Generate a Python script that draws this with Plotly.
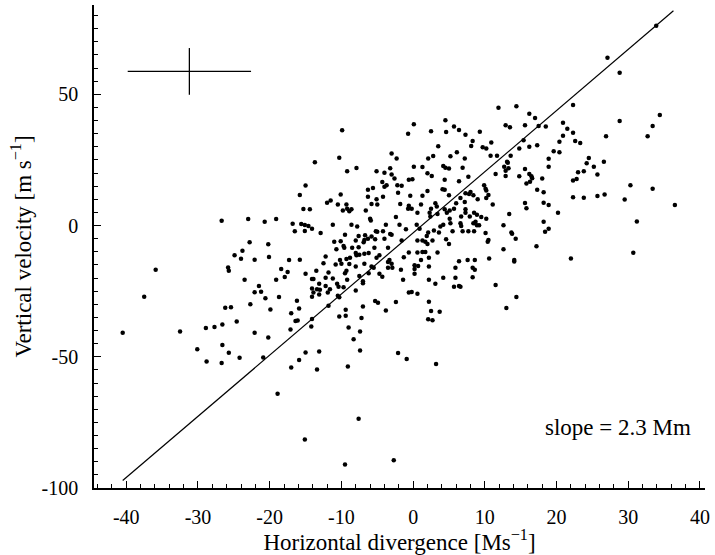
import plotly.graph_objects as go

# Divergence / vertical-velocity samples (Ms^-1, m s^-1)
div = [
    -13.7, -9.9, -10.3, -7.9, -3.0, -2.3, -3.2, -0.7, 0.1, 0.1, 1.3, 2.5, 3.5, 2.1, 2.8, 4.5, 4.6, 5.7, 6.4, 7.3,
    5.2, 6.1, 7.2, 4.2, 4.5, 5.0, 6.9, 8.3, 8.1, 9.3, 9.7, 10.2, 10.9, 10.8, 11.7, 11.9, 12.9, 13.5, 13.6, 13.1,
    13.2, 12.7, 13.3,
    33.9, 27.1, 28.8, 22.3, 14.4, 16.2, 17.0, 15.6, 17.5, 18.5, 20.9, 21.5, 22.3, 20.9, 20.4, 22.6, 23.3, 28.8,
    26.9, 34.4, 33.4, 32.7, 15.4, 14.8, 16.2, 17.3, 19.6, 20.4, 18.9, 18.9, 15.6, 24.5, 24.2, 25.2, 26.6,
    14.8, 16.2, 16.5, 16.6, 18.0, 15.8, 16.3, 23.0, 23.8, 25.7, 22.3, 22.8, 17.3, 18.2, 15.6, 15.8, 18.2, 18.9,
    20.2, 22.3, 23.8, 25.7, 26.7, 30.3, 33.4, 29.5, 36.5, 31.2, 18.2, 18.9, 18.4, 13.8, 14.3, 17.2, 14.1, 14.1,
    22.0, 30.7, 14.4,
    -15.0, -15.8, -15.3, -14.4, -26.7, -23.0, -20.7, -19.1, -16.8, -15.6, -15.1, -14.6, -14.1, -16.5, -15.1,
    -22.8, -20.2, -23.8, -24.9, -24.0, -22.1, -20.1, -17.3, -15.8, -35.9, -25.8, -25.7, -18.4, -17.5, -17.9,
    -15.0, -23.5, -19.1, -14.1, -21.5, -22.1, -21.2, -20.6, -18.7, -14.1, -14.1, -37.5, -16.2, -26.2, -25.4,
    -22.7, -19.9, -15.9, -17.0, -14.1,
    -40.5, -32.5, -28.9, -27.7, -26.6, -24.6, -22.1, -20.2, -17.1, -16.4, -16.1, -14.2, -30.1, -26.6, -25.7,
    -28.8, -26.7, -24.2, -20.9, -15.0, -15.9, -17.0, -18.9, -15.1,
    2.7, -9.0, -7.4, -8.3, -13.1, -7.4, -2.1, -0.9, 3.2, -13.4, -9.1, -7.6, -9.5, -2.7,
    -9.2, -5.1, -4.0, -3.0, -2.6, 2.0, 2.6, 4.4, 7.7, 11.5, 12.9, -4.3, -3.7, -4.0, -5.6, -6.3, -2.2, -1.6,
    -0.6, -0.1, 6.4, 4.1, 4.4, 2.0, 5.0, 7.3, 7.8, 8.0, 8.4, 9.9, 10.1, 10.2, 12.9, -10.1, -2.1, -0.4, 1.3,
    -6.3, -5.1, -4.2, -11.5, -12.0, -10.5, -9.3, -9.2, -9.8, -8.9, -8.6, -5.8, -5.0, -1.8, -0.6, -0.2, -0.7,
    1.1, 3.1, 3.3, 2.5, 6.6, 7.2, 6.0, 5.7, 4.4, 4.7, 5.1, 7.3, 9.0, 10.5, 10.2, 11.1, -6.6, -2.4, 0.6, 2.3,
    2.4, 3.4, 5.1, 8.5, 8.9, 9.5, 7.3, 6.7, 7.9, 13.4, -6.0, -5.9, -7.8, -8.6, -11.2, -3.8, -1.9, 0.5, 4.2,
    5.2, 6.6, 6.7, 8.4, 8.7, 8.9, 9.2, 12.6, 10.2, 3.8, -12.9, -9.5, -7.6, -6.7, -5.2, -5.0, -4.2, -3.2,
    -3.0, -5.8, -5.3, -4.0, -1.0, 0.9, 2.1, 1.9, 2.9, 3.6, 5.5, 4.6, 6.9, 7.7, 8.5, 10.1, 13.7, -11.0,
    -10.1, -8.0, -6.8, -6.3, -9.7, -9.6, -10.7, -8.5, -7.6, -6.9, -5.4, -6.2, -3.5, -1.6, 0.6, 1.3, 1.7, 2.0,
    2.7, 5.0, -0.6, 0.6, 1.3, 1.7, 2.2, 3.4, 10.5, 10.4, 12.6, -12.2, -9.3, -8.8, -8.0, -7.5, -7.9, -6.8,
    -5.1, -4.7, -3.3, -3.5, -1.3, 1.1, 6.4, 7.6, 8.6, 10.6, 8.3, 8.6, -12.5, -10.8, -10.2, -10.0, -8.9,
    -8.0, -6.8, -5.8, -5.5, -3.0, -2.9, -3.5, -1.7, 0.2, 0.7, 0.2, 2.2, 5.9, -13.5, -11.8, -9.3, -9.5, -7.5,
    -6.2, -4.7, -4.3, 0.2, 5.9, 8.3, -13.9, -12.2, -11.2, -9.2, -1.4, 2.2, 4.2, -7.0, -7.0, -13.1, -12.2,
    -10.6, -10.4, -9.7, -13.4, -13.0, -11.6, 3.1, 5.7, 6.4, 6.6, 11.5, -13.9, -11.9, -13.1, -8.0, -0.6,
    -0.2, 0.6, -10.5, -10.3, -5.3, -4.9, -2.4, 2.2, -11.8, -7.0, -3.8, 2.5, 3.7, 13.0, -9.4, -10.3, -9.4,
    -7.2, 2.1,
]
vel = [
    24.1, 36.3, 25.8, 21.9, 27.4, 25.5, 21.8, 35.0, 38.6, 22.4, 22.3, 35.9, 30.2, 25.5, 26.5, 40.1, 35.6, 37.7,
    36.4, 34.6, 26.4, 27.9, 25.5, 22.7, 22.0, 21.7, 22.0, 32.2, 30.3, 35.7, 29.8, 29.3, 31.6, 26.6, 26.6,
    44.9, 38.2, 37.4, 26.6, 24.3, 23.9, 22.4, 21.8,
    76.1, 63.9, 58.2, 45.9, 45.4, 42.6, 41.0, 38.2, 37.9, 37.7, 39.1, 36.9, 35.3, 34.2, 31.9, 32.2, 31.4, 39.8,
    34.0, 42.1, 37.9, 34.0, 32.5, 29.3, 30.0, 30.6, 28.3, 27.9, 25.4, 22.4, 21.5, 25.7, 23.7, 22.4, 24.3,
    18.8, 19.6, 18.8, 18.0, 17.9, 16.0, 16.7, 20.3, 20.7, 19.4, 17.1, 17.7, 13.6, 12.7, 8.6, 6.6, 8.7, 7.8,
    4.9, 10.8, 10.6, 11.2, 11.8, 15.3, 14.0, 9.9, 7.8, 1.5, 1.4, -1.2, -2.4, -3.1, -5.0, -7.9, -13.1, -13.7,
    -12.6, -10.4, -27.2,
    15.2, 11.6, 6.3, 6.2, 1.8, 2.5, 1.4, 2.5, 0.7, 0.6, 0.2, -0.2, -1.2, -2.2, -2.1,
    -6.4, -7.1, -9.6, -11.3, -12.7, -13.0, -12.0, -13.1, -13.0, -16.9, -16.0, -17.2, -16.6, -17.7, -19.6,
    -18.4, -20.7, -20.7, -20.4, -23.0, -25.4, -25.2, -27.7, -27.2, -27.1, -24.0, -27.1, -28.7, -31.3, -31.1,
    -30.0, -32.0, -31.6, -33.4, -35.6,
    -40.9, -40.4, -39.0, -38.7, -37.7, -36.6, -40.9, -42.7, -39.6, -36.4, -36.2, -38.5, -47.1, -45.5, -48.5,
    -51.8, -52.4, -50.4, -50.3, -48.4, -51.2, -54.1, -64.1, -81.5,
    -36.1, -38.9, -40.4, -43.3, -48.0, -47.6, -48.6, -50.9, -52.8, -54.9, -53.7, -73.6, -91.0, -89.4,
    20.7, 20.7, 20.1, 19.4, 17.9, 19.9, 18.9, 17.4, 18.6, 19.6, 20.9, 16.6, 15.3, 14.8, 14.3, 13.6, 15.3, 15.1,
    17.4, 17.6, 16.9, 13.8, 13.6, 13.1, 11.5, 12.3, 12.0, 12.8, 11.5, 15.3, 14.0, 13.3, 18.9, 11.8, 12.5, 11.3, 11.3,
    11.0, 10.0, 11.0, 9.5, 8.7, 8.0, 8.0, 6.4, 5.7, 5.4, 6.2, 8.2, 8.0, 8.2, 7.5, 6.4, 6.4,
    8.0, 8.5, 7.2, 6.4, 10.5, 9.0, 8.5, 6.4, 6.2, 4.9, 5.7, 6.2, 10.0, 11.6, 10.5, 8.0, 5.7, 3.2, 4.9, 4.9,
    3.4, 4.4, 2.6, 4.9, 4.1, 3.2, 4.9, 3.4, 3.4, 4.4, 2.6, 1.9, -0.4, 0.3, 0.3, 0.3, 0.3, 0.3, 0.3,
    0.9, 0.9, -0.2, 0.9, 1.4, 0.1, 0.1, 0.1, 2.6, -0.4, -2.9, -3.5, -4.0, -3.7, -2.2, -2.4, -2.2, -3.2,
    -3.5, -4.2, -5.2, -5.0, -1.4, -1.2, -2.7, -4.0, -1.9, -2.7, -2.2, -5.2, -2.2, -2.2, -2.2, -2.9, -2.7, -6.2,
    -6.0, -5.7, -5.5, -5.0, -7.8, -8.5, -9.0, -8.5, -8.3, -6.4, -8.5, -10.5, -8.5, -5.7, -5.7, -5.7, -6.2, -7.0,
    -5.7, -7.0, -10.3, -10.3, -10.1, -10.1, -12.3, -10.3, -5.5, -6.2, -9.0, -11.8, -12.8, -12.3, -10.5, -11.1, -11.3, -10.8,
    -12.3, -11.3, -13.1, -13.9, -12.1, -13.1, -13.6, -13.1, -13.1, -12.6, -16.1, -16.9, -14.4, -14.9, -13.1, -14.6, -14.7,
    -15.6, -14.6, -15.6, -16.1, -14.6, -16.1, -16.1, -16.9, -15.1, -15.4, -16.6, -15.6, -16.1, -17.2, -17.9, -17.2, -18.2, -19.2,
    -18.2, -18.4, -19.5, -18.4, -19.9, -19.7, -20.4, -19.9, -20.2, -20.7, -20.7, -20.7, -19.9, -21.2, -22.0, -22.2, -23.0,
    -22.2, -23.3, -23.5, -24.3, -24.5, -24.3, -22.2, -23.3, -23.0, -23.3, -22.7, -25.5, -25.5, -26.3, -24.8, -25.5,
    -25.3, -26.0, -26.8, -27.3, -28.8, -29.4, -29.1, -29.0, -30.6, -30.9, -32.4, -32.6, -32.9, -31.4, -32.1, -34.7, -34.4,
    -35.2, -35.7,
]

# Least-squares fit line and its extent
slope = 2.33
intercept = -2.8
fit_x = [-40.5, 36.3]

# Typical uncertainty, drawn as a cross
err_x = [-31.2]
err_y = [58.7]
err_dx = 8.6
err_dy = 8.9

x_ticks = [-40, -30, -20, -10, 0, 10, 20, 30, 40]
y_ticks = [-100, -50, 0, 50]

FONT = "Liberation Serif"

fig = go.Figure()
fig.add_trace(go.Scatter(
    x=fit_x, y=[slope * v + intercept for v in fit_x], mode="lines",
    line=dict(color="black", width=1.2), hoverinfo="skip", showlegend=False,
))
fig.add_trace(go.Scatter(
    x=div, y=vel, mode="markers",
    marker=dict(color="black", size=4.5), showlegend=False,
))
fig.add_trace(go.Scatter(
    x=err_x, y=err_y, mode="markers", marker=dict(size=0.1, color="black"),
    error_x=dict(type="constant", value=err_dx, width=0, thickness=1.3, color="black"),
    error_y=dict(type="constant", value=err_dy, width=0, thickness=1.3, color="black"),
    showlegend=False,
))

fig.add_annotation(
    x=0.98, y=0.125, xref="paper", yref="paper", xanchor="right", yanchor="middle",
    text=f"slope = {slope:.1f} Mm", showarrow=False,
    font=dict(family=FONT, size=23, color="black"),
)

axis_common = dict(
    showgrid=False, zeroline=False, showline=True, linecolor="black", linewidth=1.5,
    ticks="inside", ticklen=7, tickwidth=1.2, tickcolor="black", mirror=False,
    tickfont=dict(family=FONT, size=20, color="black"),
    ticklabeloverflow="allow",
)

fig.update_xaxes(
    **axis_common, range=[-44.5, 40.7],
    tickmode="array", tickvals=x_ticks, ticktext=[str(v) for v in x_ticks],
    minor=dict(dtick=2, ticklen=4, tickwidth=1, tickcolor="black", ticks="inside"),
    ticklabelstandoff=10,
    title=dict(text="Horizontal divergence [Ms<sup>−1</sup>]",
               font=dict(family=FONT, size=23, color="black"), standoff=6),
)
fig.update_yaxes(
    **axis_common, range=[-100, 84],
    tickmode="array", tickvals=y_ticks, ticktext=[str(v) for v in y_ticks],
    minor=dict(dtick=5, ticklen=4, tickwidth=1, tickcolor="black", ticks="inside"),
    ticklabelstandoff=10,
    title=dict(text="Vertical velocity [m s<sup>−1</sup>]",
               font=dict(family=FONT, size=23, color="black"), standoff=4),
)

fig.update_layout(
    width=715, height=555,
    margin=dict(l=94, r=5, t=5, b=67),
    plot_bgcolor="white", paper_bgcolor="white",
)

fig.write_html("out.html")
